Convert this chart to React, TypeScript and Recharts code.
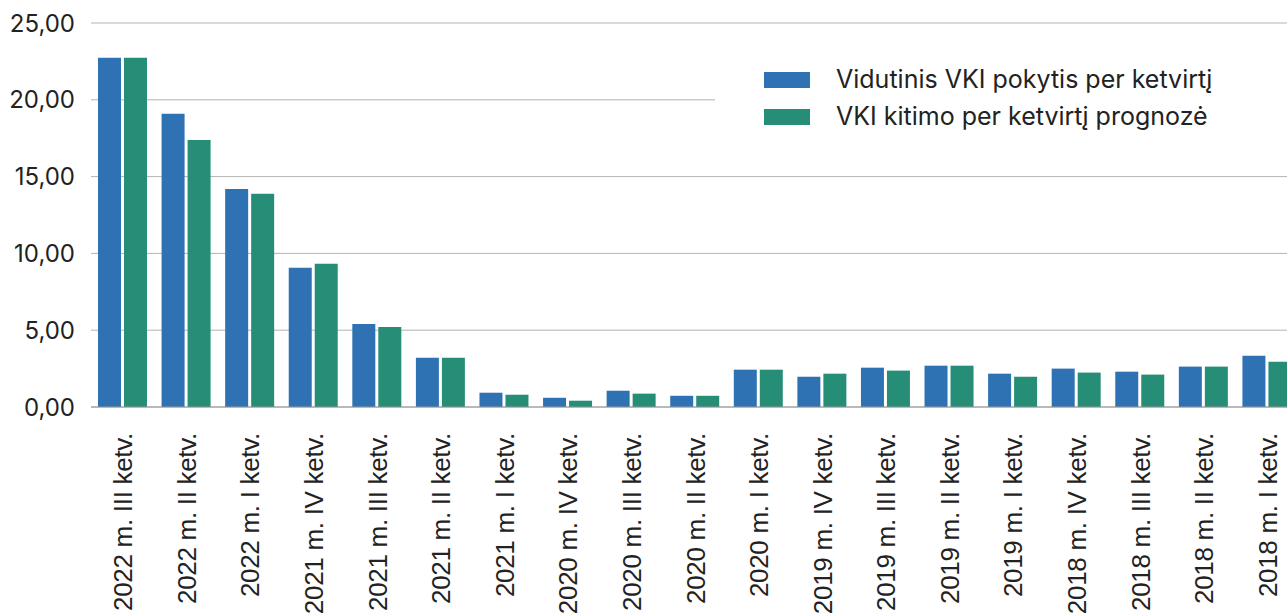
import { Bar, BarChart, CartesianGrid, XAxis, YAxis } from "recharts";

const categories = [
  "2022 m. III ketv.",
  "2022 m. II ketv.",
  "2022 m. I ketv.",
  "2021 m. IV ketv.",
  "2021 m. III ketv.",
  "2021 m. II ketv.",
  "2021 m. I ketv.",
  "2020 m. IV ketv.",
  "2020 m. III ketv.",
  "2020 m. II ketv.",
  "2020 m. I ketv.",
  "2019 m. IV ketv.",
  "2019 m. III ketv.",
  "2019 m. II ketv.",
  "2019 m. I ketv.",
  "2018 m. IV ketv.",
  "2018 m. III ketv.",
  "2018 m. II ketv.",
  "2018 m. I ketv.",
];

const actual = [22.74, 19.09, 14.2, 9.06, 5.41, 3.21, 0.93, 0.6, 1.06, 0.73, 2.43, 1.97, 2.56, 2.69, 2.17, 2.5, 2.3, 2.63, 3.34];
const forecast = [22.74, 17.39, 13.88, 9.32, 5.21, 3.21, 0.8, 0.41, 0.87, 0.73, 2.43, 2.17, 2.37, 2.69, 1.97, 2.24, 2.11, 2.63, 2.95];

const yTicks = [0, 5, 10, 15, 20, 25];

const SERIES = [
  { key: "actual", name: "Vidutinis VKI pokytis per ketvirtį", color: "#2e72b4" },
  { key: "forecast", name: "VKI kitimo per ketvirtį prognozė", color: "#268e77" },
];

const data = categories.map((name, i) => ({ name, actual: actual[i], forecast: forecast[i] }));

const fmt = (v: number) => v.toFixed(2).replace(".", ",");

const XTick = (props: any) => {
  const { x, payload } = props;
  return (
    <text
      transform={`translate(${x + 9.5},433) rotate(-90)`}
      textAnchor="end"
      fill="#222"
      style={{ fontFamily: "'Liberation Sans', Arial, sans-serif", fontSize: 26, letterSpacing: -0.3 }}
    >
      {payload.value}
    </text>
  );
};

export default function App() {
  return (
    <div style={{ position: "fixed", left: 0, top: 0, width: 1287, height: 614, overflow: "hidden", background: "#fff" }}>
      <BarChart width={1299} height={614} data={data} margin={{ top: 23, right: 0, bottom: 0, left: 0 }} barSize={23} barGap={3}>
        <CartesianGrid vertical={false} stroke="#b3b3b3" />
        <XAxis
          dataKey="name"
          height={207}
          interval={0}
          tickLine={false}
          axisLine={{ stroke: "#999" }}
          tick={<XTick />}
        />
        <YAxis
          width={91}
          domain={[0, 25]}
          ticks={yTicks}
          tickFormatter={fmt}
          axisLine={false}
          tickLine={false}
          tickSize={0}
          tickMargin={16}
          tick={{ fill: "#222", fontSize: 24, fontFamily: "Inter, sans-serif" }}
        />
        {SERIES.map((s) => (
          <Bar key={s.key} dataKey={s.key} name={s.name} fill={s.color} isAnimationActive={false} />
        ))}
      </BarChart>

      {/* legenda ant balto fono, uždengia tinklelio liniją */}
      <div style={{ position: "absolute", left: 715, top: 35, width: 584, height: 130, background: "#fff", paddingTop: 26, paddingLeft: 49, boxSizing: "border-box" }}>
        {SERIES.map((s) => (
          <div key={s.key} style={{ display: "flex", alignItems: "center", height: 37 }}>
            <div style={{ width: 46, height: 16, background: s.color, marginRight: 26 }} />
            <span style={{ fontFamily: "Inter, sans-serif", fontSize: 25, color: "#222", lineHeight: "37px" }}>{s.name}</span>
          </div>
        ))}
      </div>
    </div>
  );
}
